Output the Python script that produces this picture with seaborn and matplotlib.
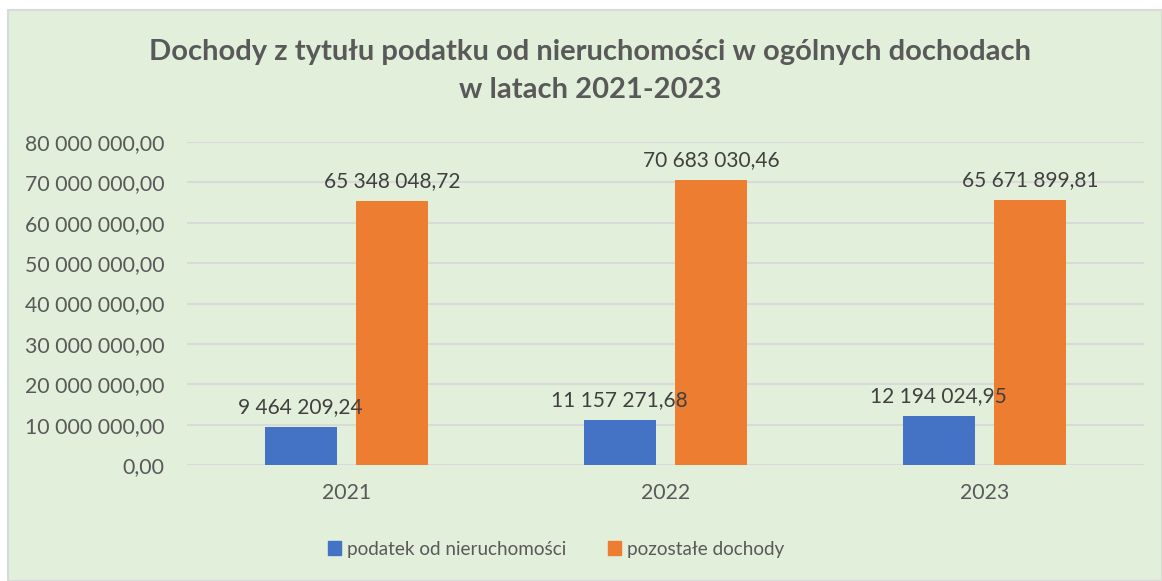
import pandas as pd
import seaborn as sns
import matplotlib.pyplot as plt
from matplotlib.patches import Rectangle
from matplotlib.ticker import FuncFormatter

years = ['2021', '2022', '2023']
series = ['podatek od nieruchomości', 'pozostałe dochody']
podatek = [9464209.24, 11157271.68, 12194024.95]
pozostale = [65348048.72, 70683030.46, 65671899.81]
colors = ['#4472C4', '#ED7D31']

df = pd.DataFrame({
    'rok': years * 2,
    'seria': [series[0]] * 3 + [series[1]] * 3,
    'kwota': podatek + pozostale,
})


def pl_fmt(v, pos=None):
    s = f'{v:,.2f}'
    return s.replace(',', ' ').replace('.', ',')


bg = '#E2EFDA'
txt = '#595959'
plt.rcParams['font.family'] = ['Lato', 'DejaVu Sans']

fig = plt.figure(figsize=(11.62, 5.81), dpi=100)
fig.patch.set_facecolor('white')
fig.patches.append(Rectangle((8 / 1162, 0), 1 - 8 / 1162, 1 - 10 / 581,
                             transform=fig.transFigure, facecolor=bg,
                             edgecolor='#D9D9D9', linewidth=1.5, zorder=-1))

ax = fig.add_axes([187 / 1162, 1 - 465 / 581, 957 / 1162, 323 / 581])
ax.set_facecolor(bg)

sns.barplot(data=df, x='rok', y='kwota', hue='seria', palette=colors,
            width=0.574, gap=0.213, ax=ax, legend=False, saturation=1)

ax.set_ylim(0, 80000000)
ax.set_xlim(-0.5, 2.5)
ax.set_yticks(range(0, 80000001, 10000000))
ax.yaxis.set_major_formatter(FuncFormatter(pl_fmt))
ax.grid(axis='y', color='#D9D9D9', linewidth=1.5)
ax.set_axisbelow(True)
for sp in ax.spines.values():
    sp.set_visible(False)
ax.tick_params(length=0, labelsize=15.3, labelcolor=txt)
ax.tick_params(axis='y', pad=16)
ax.tick_params(axis='x', pad=13)
ax.set_xlabel('')
ax.set_ylabel('')

for cont in ax.containers:
    ax.bar_label(cont, labels=[pl_fmt(b.get_height()) for b in cont],
                 padding=7, fontsize=15, color='#404040')

fig.text(0.508, 1 - 71 / 581,
         'Dochody z tytułu podatku od nieruchomości w ogólnych dochodach\nw latach 2021-2023',
         ha='center', va='center', fontsize=21, fontweight='bold', color=txt,
         linespacing=1.6)

handles = [Rectangle((0, 0), 1, 1, color=c) for c in colors]
fig.legend(handles, series, loc='center', bbox_to_anchor=(556 / 1162, 1 - 549 / 581),
           ncol=2, frameon=False, fontsize=13.6, labelcolor=txt,
           handlelength=0.7, handleheight=0.7, handletextpad=0.3, columnspacing=2.2)

fig.savefig('out.png', dpi=100, facecolor=fig.get_facecolor())
